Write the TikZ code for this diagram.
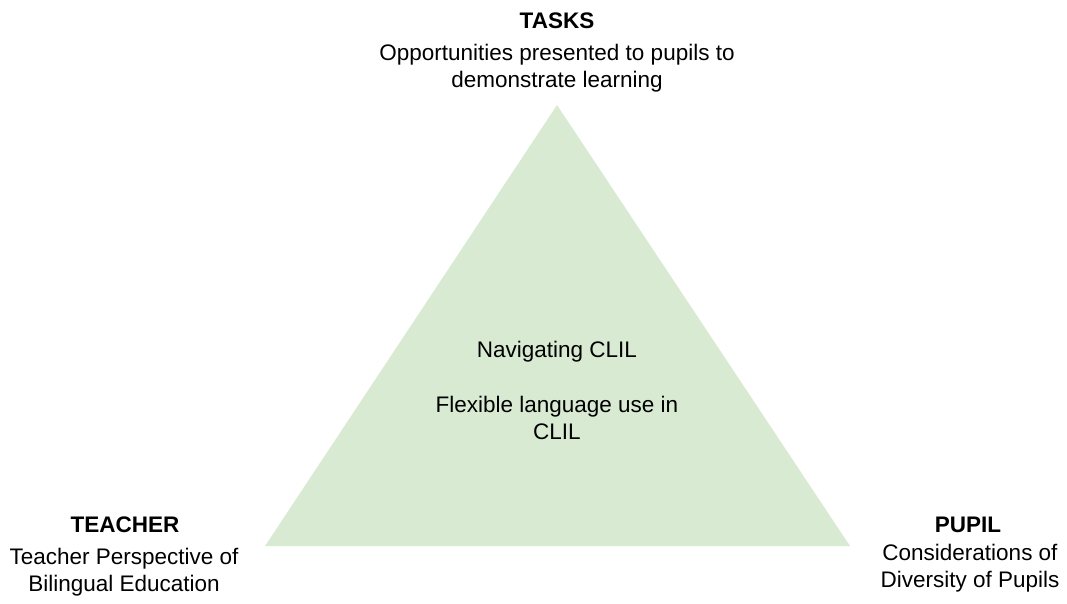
\documentclass[tikz,border=0pt]{standalone}
\usepackage{fontspec}
\setmainfont{Liberation Sans}
\usepackage{tikz}

\definecolor{trifill}{HTML}{D9EAD3}

\begin{document}
\begin{tikzpicture}[x=0.03cm, y=-0.03cm,
    corner/.style={font=\fontsize{19.2}{22.5}\selectfont\bfseries, inner sep=0pt, anchor=base},
    note/.style={font=\fontsize{19.2}{22.5}\selectfont, align=center, inner sep=0pt, anchor=base}]
    \useasboundingbox (0,0) rectangle (1067,603);

    % the triangle
    \coordinate (top) at (557,105);
    \coordinate (left) at (265,546);
    \coordinate (right) at (850,546);
    \fill [trifill] (top) -- (left) -- (right) -- cycle;

    % base of a multi-line node sits on its last line
    \node [note] (mid) at (557,439) {Navigating CLIL\\[24.3pt]Flexible language use in\\CLIL};

    % corner labels
    \node [corner] (tasks) at (557,28) {TASKS};
    \node [note] (tasksnote) at (557,87) {Opportunities presented to pupils to\\demonstrate learning};

    \node [corner] (teacher) at (125,532) {TEACHER};
    \node [note] (teachernote) at (124,591) {Teacher Perspective of\\Bilingual Education};

    \node [corner] (pupil) at (968,532) {PUPIL};
    \node [note] (pupilnote) at (970,587) {Considerations of\\Diversity of Pupils};
\end{tikzpicture}
\end{document}
